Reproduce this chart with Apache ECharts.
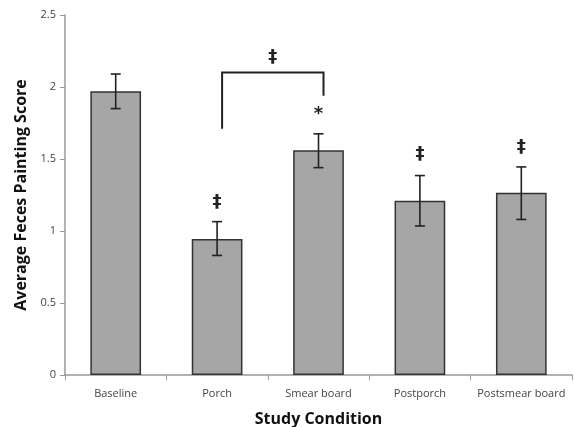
<!DOCTYPE html>
<html>
<head>
<meta charset="utf-8">
<script src="https://cdn.jsdelivr.net/npm/echarts@6/dist/echarts.min.js"></script>
<style>
  html, body { margin: 0; padding: 0; background: #fff; }
  #chart { width: 575px; height: 427px; }
</style>
</head>
<body>
<div id="chart"></div>
<script>
// study conditions and mean scores
const categories = ['Baseline', 'Porch', 'Smear board', 'Postporch', 'Postsmear board'];
const means = [1.97, 0.945, 1.56, 1.21, 1.265];
const errLow = [1.85, 0.83, 1.44, 1.035, 1.08];
const errHigh = [2.09, 1.065, 1.675, 1.385, 1.445];
// significance marks above each bar
const marks = ['', '‡', '*', '‡', '‡'];
const markValue = [0, 1.2, 1.81, 1.53, 1.58];
// bracket between Porch and Smear board
const bracketFrom = 'Porch';
const bracketTo = 'Smear board';
const bracketTop = 2.1;
const bracketLeftEnd = 1.71;
const bracketRightEnd = 1.94;
const bracketMark = '‡';
const yTicks = [0, 0.5, 1, 1.5, 2, 2.5];

const fontFam = '"Open Sans", "Liberation Sans", sans-serif';

const chart = echarts.init(document.getElementById('chart'));

chart.setOption({
  animation: false,
  grid: { left: 65, right: 3, top: 15, bottom: 52, outerBoundsMode: 'none', containLabel: false },
  xAxis: {
    type: 'category',
    data: categories,
    name: 'Study Condition',
    nameLocation: 'middle',
    nameGap: 36,
    nameTextStyle: { fontFamily: fontFam, fontWeight: 'bold', fontSize: 16, color: '#111' },
    axisLine: { lineStyle: { color: '#999', width: 1.5 } },
    axisTick: { show: true, length: 5, lineStyle: { color: '#999' } },
    axisLabel: { interval: 0, fontFamily: fontFam, fontSize: 11, color: '#444', margin: 13 }
  },
  yAxis: {
    type: 'value',
    min: 0,
    max: yTicks[yTicks.length - 1],
    interval: 0.5,
    name: 'Average Feces Painting Score',
    nameLocation: 'middle',
    nameGap: 32,
    nameTextStyle: { fontFamily: fontFam, fontWeight: 'bold', fontSize: 16, color: '#111' },
    splitLine: { show: false },
    axisLine: { show: true, lineStyle: { color: '#999', width: 1.5 } },
    axisTick: { show: true, length: 5, lineStyle: { color: '#999' } },
    axisLabel: { fontFamily: fontFam, fontSize: 11, color: '#444', margin: 9 }
  },
  series: [
    {
      type: 'bar',
      data: means,
      barWidth: '50%',
      itemStyle: { color: '#a6a6a6', borderColor: '#333', borderWidth: 1.5 }
    },
    {
      // error bars + significance marks
      type: 'custom',
      data: categories.map((c, i) => [i, errLow[i], errHigh[i], markValue[i]]),
      z: 5,
      renderItem: function (params, api) {
        const i = api.value(0);
        const lo = api.coord([i, api.value(1)]);
        const hi = api.coord([i, api.value(2)]);
        const mk = api.coord([i, api.value(3)]);
        const w = 5;
        const style = { stroke: '#222', lineWidth: 1.6 };
        const children = [
          { type: 'line', shape: { x1: lo[0], y1: lo[1], x2: hi[0], y2: hi[1] }, style },
          { type: 'line', shape: { x1: hi[0] - w, y1: hi[1], x2: hi[0] + w, y2: hi[1] }, style },
          { type: 'line', shape: { x1: lo[0] - w, y1: lo[1], x2: lo[0] + w, y2: lo[1] }, style }
        ];
        if (marks[params.dataIndex]) {
          children.push({
            type: 'text',
            style: {
              x: mk[0], y: mk[1], text: marks[params.dataIndex],
              textAlign: 'center', textVerticalAlign: 'middle',
              fontSize: 18, fontWeight: 'bold', fontFamily: 'DejaVu Sans', fill: '#222'
            }
          });
        }
        return { type: 'group', children };
      }
    },
    {
      // bracket comparing Porch vs Smear board
      type: 'custom',
      data: [[categories.indexOf(bracketFrom), categories.indexOf(bracketTo)]],
      z: 5,
      renderItem: function (params, api) {
        const a = api.value(0), b = api.value(1);
        const off = 5;
        const pL = api.coord([a, bracketLeftEnd]);
        const pTL = api.coord([a, bracketTop]);
        const pTR = api.coord([b, bracketTop]);
        const pR = api.coord([b, bracketRightEnd]);
        return {
          type: 'group',
          children: [
            {
              type: 'polyline',
              shape: { points: [[pL[0] + off, pL[1]], [pTL[0] + off, pTL[1]], [pTR[0] + off, pTR[1]], [pR[0] + off, pR[1]]] },
              style: { stroke: '#222', lineWidth: 2, fill: null }
            },
            {
              type: 'text',
              style: {
                x: (pTL[0] + pTR[0]) / 2 + off, y: pTL[1] - 15, text: bracketMark,
                textAlign: 'center', textVerticalAlign: 'middle',
                fontSize: 18, fontWeight: 'bold', fontFamily: 'DejaVu Sans', fill: '#222'
              }
            }
          ]
        };
      }
    }
  ]
});
</script>
</body>
</html>
